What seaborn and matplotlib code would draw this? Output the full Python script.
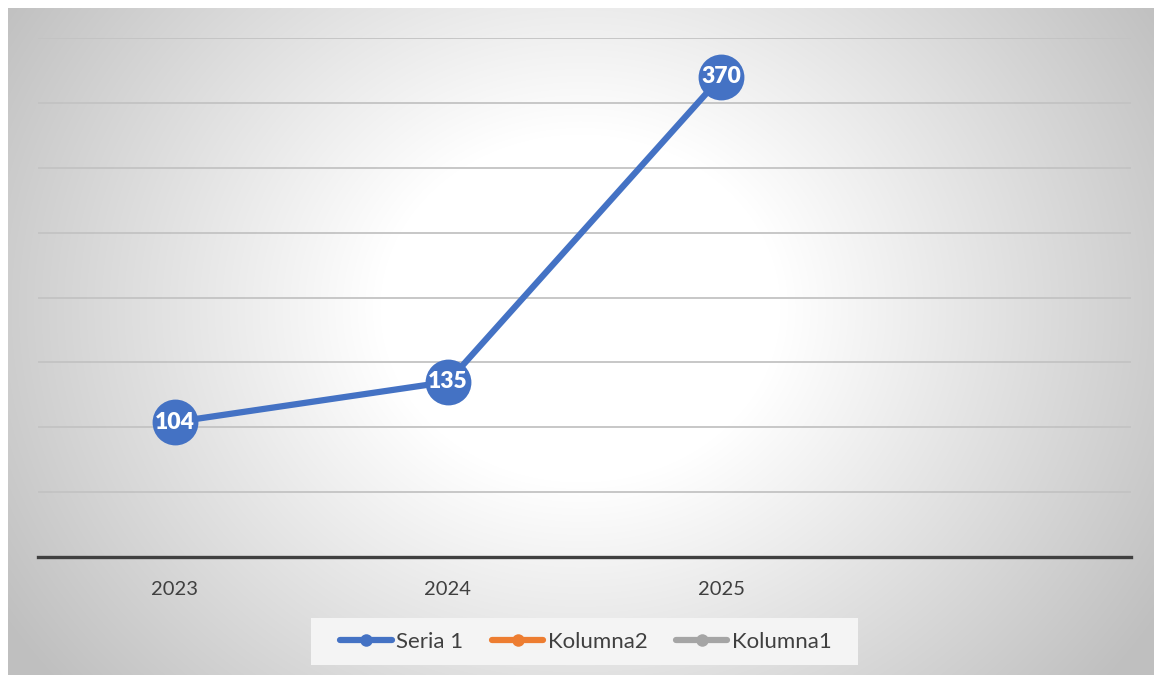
import numpy as np
import pandas as pd
import matplotlib
matplotlib.use("Agg")
import matplotlib.pyplot as plt
from matplotlib.lines import Line2D
from matplotlib.patches import Rectangle
import seaborn as sns

categories = ["2023", "2024", "2025", ""]
seria1 = [104, 135, 370, np.nan]
legend_names = ["Seria 1", "Kolumna2", "Kolumna1"]
legend_colors = ["#4472C4", "#ED7D31", "#A5A5A5"]
y_ticks = [0, 50, 100, 150, 200, 250, 300, 350, 400]

sns.set_style("white")
plt.rcParams["font.family"] = ["Lato", "DejaVu Sans"]

W, H = 1154, 675
fig = plt.figure(figsize=(W / 100, H / 100), dpi=100)
fig.patch.set_facecolor("white")

# radial gradient background
bg = fig.add_axes([8 / W, 0, 1 - 8 / W, 1 - 8 / H])
bw, bh = W - 8, H - 8
yy, xx = np.mgrid[0:bh, 0:bw]
cx, cy = 572, 300
r = np.sqrt((xx - cx) ** 2 + ((yy - cy) * 1.15) ** 2)
t = np.clip((r - 200) / 480, 0, 1)
val = 1 - 0.25 * t
bg.imshow(np.dstack([val, val, val]), aspect="auto", extent=(0, 1, 0, 1), origin="upper")
bg.set_axis_off()

# legend background box
fig.patches.append(Rectangle((311 / W, 1 - 665 / H), (858 - 311) / W, 47 / H,
                             transform=fig.transFigure, facecolor="#f4f4f4",
                             edgecolor="none", zorder=1))

ax = fig.add_axes([38 / W, (H - 557) / H, (1131 - 38) / W, (557 - 38) / H])
ax.set_facecolor("none")

df = pd.DataFrame({"x": np.arange(len(categories)), "y": seria1, "s": "Seria 1"})
sns.lineplot(data=df, x="x", y="y", ax=ax, color=legend_colors[0], linewidth=4.5,
             marker="o", markersize=33, markeredgewidth=0, legend=False, zorder=5)

for xi, v in zip(df["x"], df["y"]):
    if not np.isnan(v):
        ax.text(xi, v, f"{int(v)}", color="white", fontsize=16.5, fontweight="heavy",
                ha="center", va="center", zorder=6)

ax.set_xlim(-0.5, len(categories) - 0.5)
ax.set_ylim(0, 400)
ax.set_yticks(y_ticks)
ax.set_yticklabels([])
ax.yaxis.grid(True, color="#c3c3c3", linewidth=1.3)
ax.set_axisbelow(True)
ax.set_xticks(np.arange(len(categories)))
ax.set_xticklabels(categories, fontsize=14.5, color="#404040")
ax.tick_params(axis="x", length=0, pad=17)
ax.tick_params(axis="y", length=0)
ax.set_xlabel("")
ax.set_ylabel("")
for s in ["top", "left", "right"]:
    ax.spines[s].set_visible(False)
ax.spines["bottom"].set_color("#404040")
ax.spines["bottom"].set_linewidth(2.4)
ax.spines["bottom"].set_zorder(4)

handles = [Line2D([0], [0], color=c, linewidth=4.5, marker="o", markersize=9,
                  markeredgewidth=0) for c in legend_colors]
leg = fig.legend(handles, legend_names, loc="center", bbox_to_anchor=(586 / W, 1 - 641.5 / H),
                 ncol=3, frameon=False, fontsize=16, handlelength=2.3, handletextpad=0.2,
                 columnspacing=1.3, borderpad=0.6, borderaxespad=0)
for txt in leg.get_texts():
    txt.set_color("#404040")

fig.savefig("out.png", dpi=100)
